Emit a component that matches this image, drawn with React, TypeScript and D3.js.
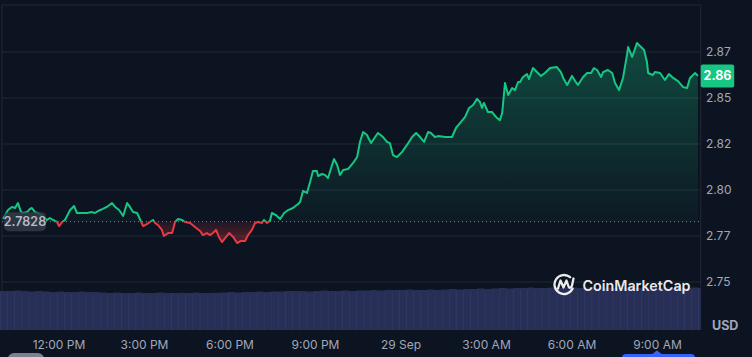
import React from 'react';
import * as d3 from 'd3';

const W = 752;
const H = 357;

// hours since 00:00 on 28 Sep
const times = [10.04,10.21,10.35,10.46,10.56,10.67,10.74,10.88,10.98,11.05,
11.16,11.26,11.40,11.58,11.68,11.79,11.93,12.00,12.11,12.21,
12.39,12.53,12.63,12.81,12.98,13.16,13.26,13.37,13.54,13.68,
13.86,13.97,14.11,14.25,14.39,14.49,14.60,14.74,14.84,14.95,
15.09,15.19,15.30,15.37,15.47,15.61,15.68,15.83,15.97,16.07,
16.18,16.32,16.42,16.60,16.77,16.95,17.05,17.19,17.30,17.40,
17.51,17.61,17.72,17.83,17.97,18.11,18.25,18.39,18.53,18.63,
18.77,18.88,18.98,19.12,19.19,19.30,19.40,19.47,19.61,19.76,
19.90,20.04,20.21,20.39,20.46,20.56,20.70,20.81,20.91,21.05,
21.09,21.23,21.33,21.44,21.58,21.65,21.76,21.86,21.97,22.14,
22.32,22.46,22.56,22.67,22.81,22.84,22.95,23.02,23.19,23.37,
23.51,23.61,23.72,23.86,24.04,24.21,24.39,24.53,24.67,24.81,
24.95,25.05,25.19,25.30,25.55,25.79,25.93,26.07,26.25,26.39,
26.53,26.67,26.77,26.84,26.91,27.05,27.19,27.37,27.47,27.55,
27.65,27.76,27.90,28.00,28.11,28.18,28.28,28.42,28.49,28.63,
28.77,28.91,29.05,29.23,29.47,29.61,29.69,29.83,30.00,30.11,
30.21,30.39,30.53,30.67,30.77,30.88,31.02,31.09,31.26,31.41,
31.51,31.65,31.79,31.93,31.97,32.11,32.28,32.35,32.53,32.63,
32.67,32.84,32.91,33.09,33.26,33.40,33.55,33.72,33.90,34.04,
34.14,34.32,34.42];

const prices = [2.7842,2.7891,2.7908,2.7902,2.7929,2.7880,2.7875,2.7880,2.7897,2.7902,
2.7880,2.7875,2.7859,2.7837,2.7848,2.7837,2.7826,2.7804,2.7826,2.7837,
2.7891,2.7913,2.7875,2.7875,2.7875,2.7880,2.7875,2.7886,2.7897,2.7908,
2.7929,2.7908,2.7891,2.7859,2.7929,2.7908,2.7880,2.7875,2.7842,2.7804,
2.7815,2.7826,2.7837,2.7821,2.7810,2.7783,2.7750,2.7766,2.7766,2.7826,
2.7842,2.7837,2.7826,2.7821,2.7799,2.7777,2.7755,2.7766,2.7755,2.7766,
2.7783,2.7745,2.7717,2.7739,2.7766,2.7745,2.7712,2.7723,2.7723,2.7755,
2.7783,2.7821,2.7826,2.7821,2.7837,2.7821,2.7832,2.7875,2.7864,2.7842,
2.7875,2.7891,2.7902,2.7924,2.7935,2.7995,2.7984,2.8043,2.8103,2.8103,
2.8076,2.8087,2.8082,2.8065,2.8136,2.8168,2.8136,2.8082,2.8109,2.8114,
2.8147,2.8179,2.8261,2.8315,2.8299,2.8288,2.8255,2.8272,2.8310,2.8288,
2.8261,2.8255,2.8190,2.8179,2.8207,2.8245,2.8288,2.8310,2.8288,2.8261,
2.8315,2.8310,2.8288,2.8293,2.8288,2.8288,2.8337,2.8364,2.8397,2.8446,
2.8462,2.8495,2.8478,2.8446,2.8473,2.8424,2.8424,2.8391,2.8380,2.8418,
2.8582,2.8516,2.8554,2.8543,2.8587,2.8587,2.8614,2.8630,2.8603,2.8663,
2.8641,2.8620,2.8636,2.8663,2.8668,2.8641,2.8609,2.8571,2.8620,2.8592,
2.8571,2.8614,2.8636,2.8636,2.8663,2.8652,2.8614,2.8641,2.8652,2.8636,
2.8582,2.8543,2.8609,2.8734,2.8777,2.8723,2.8799,2.8788,2.8761,2.8696,
2.8636,2.8625,2.8641,2.8636,2.8598,2.8630,2.8609,2.8592,2.8559,2.8554,
2.8609,2.8636,2.8620];

// volume (billions) per 15-minute interval
const volumes = [3.9,3.9,3.95,3.9,3.85,3.9,3.85,3.8,3.85,3.8,3.8,3.85,3.8,3.8,
3.75,3.7,3.75,3.7,3.7,3.75,3.7,3.7,3.75,3.7,3.7,3.72,3.7,3.75,3.7,3.7,3.72,3.75,3.8,3.75,3.8,3.8,3.85,3.8,3.85,3.85,3.9,
3.9,3.9,3.85,3.9,3.95,3.9,3.9,3.95,3.9,3.95,3.95,4.0,3.95,4.0,4.0,
4.0,4.05,4.0,4.0,4.05,4.0,4.05,4.1,4.05,4.1,4.1,4.15,4.1,
4.15,4.2,4.15,4.2,4.2,4.25,4.2,4.2,4.25,4.2,4.25,4.25,4.2,4.25,4.2,4.25,4.25,4.2,4.2,4.25,4.2,4.25,4.2,4.2,4.25,4.2,4.25,
4.2,4.25,4.2];
const volStartHour = 9.93;
const volStepHours = 0.25;

const baselinePrice = 2.7828;
const baselineLabel = '2.7828';
const lastPriceLabel = '2.86';
const yTicks = [2.75, 2.775, 2.8, 2.825, 2.85, 2.875];
const yTickLabels = ['2.75', '2.77', '2.80', '2.82', '2.85', '2.87'];
const xTicks = [12, 15, 18, 21, 24, 27, 30, 33];
const xTickLabels = ['12:00 PM', '3:00 PM', '6:00 PM', '9:00 PM', '29 Sep', '3:00 AM', '6:00 AM', '9:00 AM'];
const currencyLabel = 'USD';
const brandLabel = 'CoinMarketCap';

const GREEN = '#16c784';
const RED = '#ea3943';
const BG = '#0d1421';
const GRID = '#222836';
const TEXT = '#a1a7bb';
const FONT = 'Inter, "Noto Sans", sans-serif';

export default function App() {
  const plotL = 2, plotR = 700.7, plotT = 5, plotB = 330;
  const x = d3.scaleLinear().domain([9.93, 34.516]).range([0, 700.7]);
  const y = d3.scaleLinear().domain([2.775, 2.875]).range([236, 52]);
  const vy = d3.scaleLinear().domain([0, 4.4]).range([plotB, 286]);

  const data = times.map((t, i) => ({ t, p: prices[i] }));
  const yBase = y(baselinePrice);
  const line = d3.line<{ t: number; p: number }>().x(d => x(d.t)).y(d => y(d.p));
  const area = d3.area<{ t: number; p: number }>().x(d => x(d.t)).y0(yBase).y1(d => y(d.p));
  const linePath = line(data) || '';
  const areaPath = area(data) || '';
  const yMax = y(d3.max(prices) as number);
  const yMin = y(d3.min(prices) as number);
  const lastY = y(prices[prices.length - 1]);
  const barW = x(volStartHour + volStepHours) - x(volStartHour);

  const logoArc = d3.arc()({ innerRadius: 9.5, outerRadius: 9.5, startAngle: (115 * Math.PI) / 180, endAngle: (400 * Math.PI) / 180 } as any) || '';

  return (
    <div style={{ position: 'fixed', left: 0, top: 0, width: W, height: H, background: BG }}>
      <svg width={W} height={H} style={{ display: 'block', fontFamily: FONT }}>
        <defs>
          <linearGradient id="gUp" gradientUnits="userSpaceOnUse" x1="0" x2="0" y1={yMax} y2={yBase}>
            <stop offset="0" stopColor={GREEN} stopOpacity={0.3} />
            <stop offset="1" stopColor={GREEN} stopOpacity={0.03} />
          </linearGradient>
          <linearGradient id="gDown" gradientUnits="userSpaceOnUse" x1="0" x2="0" y1={yBase} y2={yMin}>
            <stop offset="0" stopColor={RED} stopOpacity={0.08} />
            <stop offset="1" stopColor={RED} stopOpacity={0.35} />
          </linearGradient>
          <clipPath id="cUp"><rect x={0} y={0} width={W} height={yBase} /></clipPath>
          <clipPath id="cDown"><rect x={0} y={yBase} width={W} height={H - yBase} /></clipPath>
          <clipPath id="cPlot"><rect x={0} y={plotT} width={plotR} height={plotB - plotT} /></clipPath>
        </defs>
        <rect x={0} y={0} width={W} height={H} fill={BG} />

        {/* grid */}
        {yTicks.map((v, i) => (
          <line key={'g' + i} x1={plotL} x2={plotR} y1={y(v)} y2={y(v)} stroke={GRID} strokeWidth={1} />
        ))}
        <line x1={plotL} x2={plotR} y1={plotT} y2={plotT} stroke={GRID} />
        <line x1={plotL} x2={plotL} y1={plotT} y2={plotB} stroke={GRID} />
        <line x1={plotR} x2={plotR} y1={plotT} y2={plotB} stroke={GRID} />

        {/* volume */}
        <g clipPath="url(#cPlot)">
          {volumes.map((v, i) => {
            const x0 = x(volStartHour + i * volStepHours);
            return (
              <g key={'v' + i}>
                <rect x={x0} y={vy(v)} width={barW} height={plotB - vy(v)} fill="#282f57" />
                <line x1={x0 + 0.3} x2={x0 + 0.3} y1={vy(v) + 1} y2={plotB} stroke="#333b68" strokeWidth={0.8} />
              </g>
            );
          })}
        </g>

        {/* areas */}
        <path d={areaPath} fill="url(#gUp)" clipPath="url(#cUp)" />
        <path d={areaPath} fill="url(#gDown)" clipPath="url(#cDown)" />

        {/* baseline */}
        <line x1={plotL} x2={plotR} y1={yBase} y2={yBase} stroke="#7d8499" strokeWidth={1} strokeDasharray="1 3" />

        {/* price line */}
        <path d={linePath} fill="none" stroke={GREEN} strokeWidth={2} strokeLinejoin="round" clipPath="url(#cUp)" />
        <path d={linePath} fill="none" stroke={RED} strokeWidth={2} strokeLinejoin="round" clipPath="url(#cDown)" />

        {/* baseline label */}
        <rect x={4} y={yBase - 9.5} width={42} height={19} rx={5} fill="#343946" fillOpacity={0.85} />
        <text x={25} y={yBase + 4.5} textAnchor="middle" fontSize={12.5} fontWeight={600} fill="#b6bbc8">{baselineLabel}</text>

        {/* y axis labels */}
        {yTicks.map((v, i) => (
          <text key={'yl' + i} x={706} y={y(v) + 4.2} fontSize={12} fill={TEXT}>{yTickLabels[i]}</text>
        ))}
        <text x={712} y={329.5} fontSize={12.5} fontWeight={700} fill={TEXT}>{currencyLabel}</text>

        {/* current price badge */}
        <rect x={plotR} y={lastY - 11.5} width={33.5} height={23} rx={2} fill={GREEN} />
        <text x={717.5} y={lastY + 4.5} textAnchor="middle" fontSize={12.5} fontWeight={700} fill="#ffffff">{lastPriceLabel}</text>

        {/* x axis labels */}
        {xTicks.map((h, i) => (
          <text key={'xl' + i} x={x(h)} y={349} textAnchor="middle" fontSize={12} fill={TEXT}>{xTickLabels[i]}</text>
        ))}

        {/* brand */}
        <g transform="translate(564,284.5)" fill="none" stroke="#ffffff" strokeWidth={2.3} strokeLinecap="round" strokeLinejoin="round" opacity={0.92}>
          <path d={logoArc} />
          <path d="M-6,4 L-3.5,-4 L-0.5,3 L2.5,-4 L4.5,2 Q6,5 8,1 L9.5,-6" />
        </g>
        <text x={582.5} y={290.5} fontSize={14.3} fontWeight={600} fill="#ffffff" fillOpacity={0.92}>{brandLabel}</text>

        {/* partial bottom controls */}
        <rect x={8} y={353} width={36} height={12} rx={6} fill="#c7ccd6" fillOpacity={0.6} />
        <path d="M651,355 L657,350.5 L663,355 Z" fill="#3861fb" />
        <rect x={622} y={354} width={73} height={12} rx={4} fill="#3861fb" />
      </svg>
    </div>
  );
}
